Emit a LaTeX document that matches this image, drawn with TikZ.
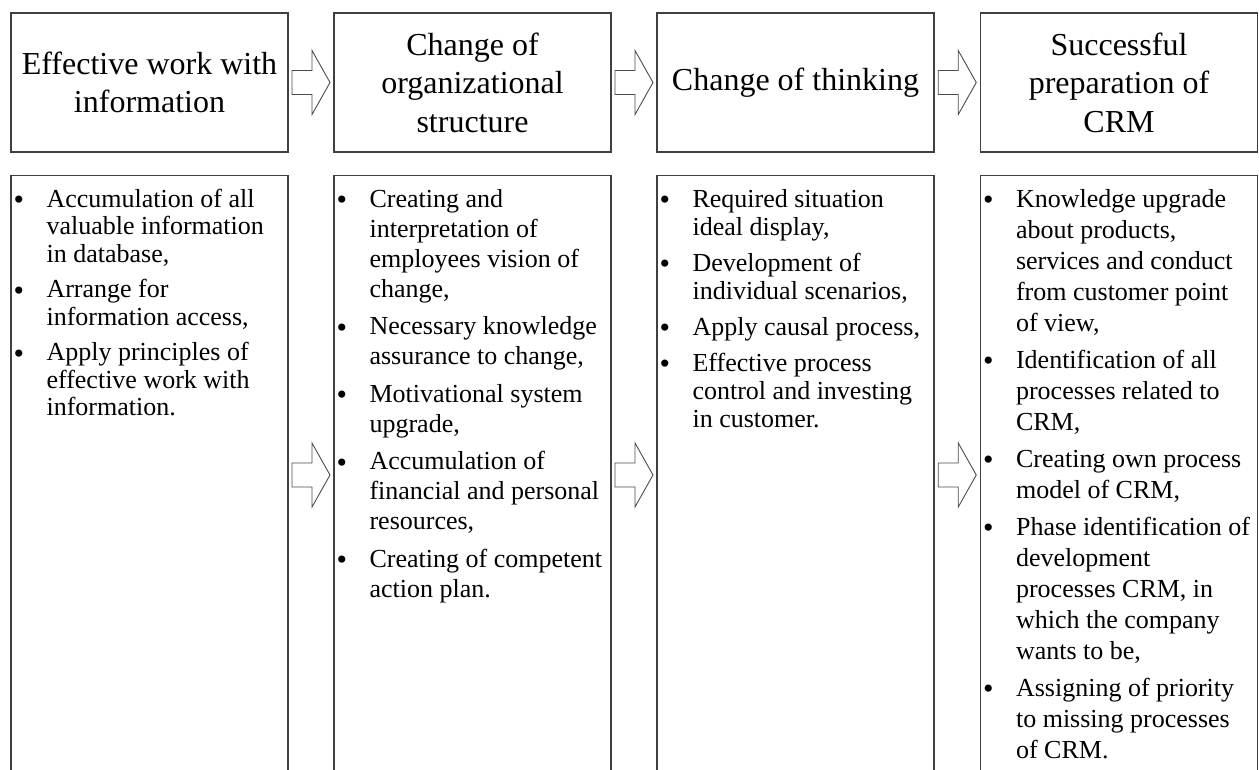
\documentclass[tikz,border=0pt]{standalone}
\usepackage{fontspec}
\setmainfont{Liberation Serif}
\usepackage{graphicx}
\usetikzlibrary{calc, positioning}
\tikzset{
    headBox/.style={draw=black!75, line width=1.3pt, minimum width=277pt, minimum height=139pt, inner sep=0pt, align=center, font=\fontsize{32}{38.5}\selectfont},
    listBox/.style={draw=black!75, line width=1.3pt, minimum width=277pt, minimum height=640pt, inner sep=0pt, anchor=north},
    listText/.style={inner sep=0pt, anchor=north west, align=left, font=\fontsize{26}{#1}\selectfont},
    stepArrow/.style={draw=black!70, line width=0.9pt, fill=white, line join=miter},
}
\newcommand{\bul}{\makebox[0pt][r]{\raisebox{-2.5pt}{\scalebox{1.15}{\textbullet}}\hspace{22.5pt}}}
\newcommand{\firstLine}{\rule{0pt}{22pt}}
\newcommand{\drawStep}[1]{
    % hollow block arrow centred on #1
    \draw[stepArrow] ($(#1)+(-19,-12)$) -- ($(#1)+(1,-12)$) -- ($(#1)+(1,-32)$) -- ($(#1)+(19,0)$)
        -- ($(#1)+(1,32)$) -- ($(#1)+(1,12)$) -- ($(#1)+(-19,12)$) -- cycle;
}

\begin{document}
\begin{tikzpicture}[x=1pt, y=-1pt]

    \path[use as bounding box, clip] (0,0) rectangle (1259,769);

    % headers
    \node[headBox] (h1) at (149.5, 82.5) {Effective work with\\information};
    \node[headBox] (h2) at (472.5, 82.5) {Change of\\organizational\\structure};
    \node[headBox] (h3) at (795.5, 82.5) {Change of thinking};
    \node[headBox] (h4) at (1119, 82.5) {Successful\\preparation of\\CRM};

    % lists under the headers, open at the bottom
    \node[listBox] (l1) at (149.5, 175) {};
    \node[listBox] (l2) at (472.5, 175) {};
    \node[listBox] (l3) at (795.5, 175) {};
    \node[listBox] (l4) at (1119, 175) {};

    \node[listText=27.5pt] (t1) at ($(l1.north west)+(36,10)$) {%
        \bul\firstLine Accumulation of all\\ valuable information\\ in database,\\[8pt]
        \bul Arrange for\\ information access,\\[8pt]
        \bul Apply principles of\\ effective work with\\ information.};

    \node[listText=30pt] (t2) at ($(l2.north west)+(36,10)$) {%
        \bul\firstLine Creating and\\ interpretation of\\ employees vision of\\ change,\\[7.5pt]
        \bul Necessary knowledge\\ assurance to change,\\[7.5pt]
        \bul Motivational system\\ upgrade,\\[7.5pt]
        \bul Accumulation of\\ financial and personal\\ resources,\\[7.5pt]
        \bul Creating of competent\\ action plan.};

    \node[listText=28pt] (t3) at ($(l3.north west)+(36,10)$) {%
        \bul\firstLine Required situation\\ ideal display,\\[8pt]
        \bul Development of\\ individual scenarios,\\[8pt]
        \bul Apply causal process,\\[8pt]
        \bul Effective process\\ control and investing\\ in customer.};

    \node[listText=31pt] (t4) at ($(l4.north west)+(36,10)$) {%
        \bul\firstLine Knowledge upgrade\\ about products,\\ services and conduct\\ from customer point\\ of view,\\[6pt]
        \bul Identification of all\\ processes related to\\ CRM,\\[6pt]
        \bul Creating own process\\ model of CRM,\\[6pt]
        \bul Phase identification of\\ development\\ processes CRM, in\\ which the company\\ wants to be,\\[6pt]
        \bul Assigning of priority\\ to missing processes\\ of CRM.};

    % arrows between the columns
    \coordinate (a1) at ($(h1.east)!0.5!(h2.west)$);
    \coordinate (a2) at ($(h2.east)!0.5!(h3.west)$);
    \coordinate (a3) at ($(h3.east)!0.5!(h4.west)$);
    \drawStep{a1}
    \drawStep{a2}
    \drawStep{a3}

    \coordinate (b1) at ($(l1.north east)!0.5!(l2.north west)+(0,300)$);
    \coordinate (b2) at ($(l2.north east)!0.5!(l3.north west)+(0,300)$);
    \coordinate (b3) at ($(l3.north east)!0.5!(l4.north west)+(0,300)$);
    \drawStep{b1}
    \drawStep{b2}
    \drawStep{b3}

\end{tikzpicture}
\end{document}
